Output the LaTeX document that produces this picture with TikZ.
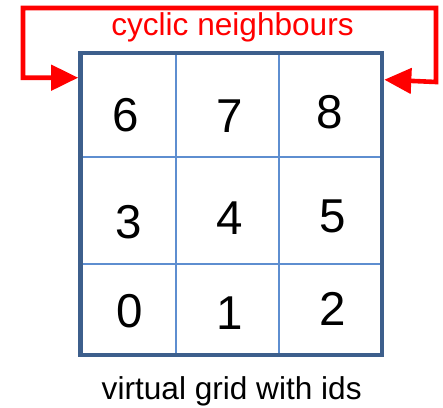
\documentclass[tikz,border=0pt]{standalone}
\usepackage{fontspec}
\setmainfont{Liberation Sans}
\usetikzlibrary{arrows.meta}

\definecolor{gridblue}{HTML}{3D5F8C}
\definecolor{cellblue}{HTML}{5E8ED0}
\definecolor{nbred}{HTML}{FF0000}

\tikzset{idnum/.style={anchor=base, inner sep=0pt, font=\fontsize{47.5}{50}\selectfont}}
\tikzset{caption/.style={anchor=base, inner sep=0pt, font=\fontsize{31.6}{34}\selectfont}}
\tikzset{nbarrow/.style={nbred, line width=4.6pt, {Triangle[length=27pt, width=25pt]}-{Triangle[length=27pt, width=25pt]}}}

\begin{document}
\begin{tikzpicture}[x=1pt, y=-1pt]
\useasboundingbox (0,0) rectangle (443,407);

\def\xa{176}
\def\xb{279}
\def\ya{157}
\def\yb{264}
\def\ytop{53}
\def\ybot{355}
\def\xlft{80.5}
\def\xrgt{382}

%cell lines
\draw[cellblue, line width=1.6pt] (\xa,\ytop) -- (\xa,\ybot);
\draw[cellblue, line width=1.6pt] (\xb,\ytop) -- (\xb,\ybot);
\draw[cellblue, line width=1.6pt] (\xlft,\ya) -- (\xrgt,\ya);
\draw[cellblue, line width=1.6pt] (\xlft,\yb) -- (\xrgt,\yb);

%outer frame
\node[draw=gridblue, line width=4.6pt, inner sep=0pt,
      minimum width=301.5pt, minimum height=302pt] (grid) at (231.25,204) {};

%ids
\foreach \id/\x/\y in {0/130/327, 1/229.8/329, 2/333/325,
                       3/129/238, 4/229.5/234, 5/333/232,
                       6/126/131, 7/230/132, 8/330/128}
  \node[idnum] (id\id) at (\x,\y) {\id};

%cyclic neighbours
\draw[nbarrow] ([yshift=-27pt]grid.north west) -| (23,8) -| (436,82) -- ([yshift=-29pt]grid.north east);
\node[caption, nbred] (cyclic) at (232.5,35) {cyclic neighbours};

\node[caption] (title) at (231.7,399) {virtual grid with ids};

\end{tikzpicture}
\end{document}
